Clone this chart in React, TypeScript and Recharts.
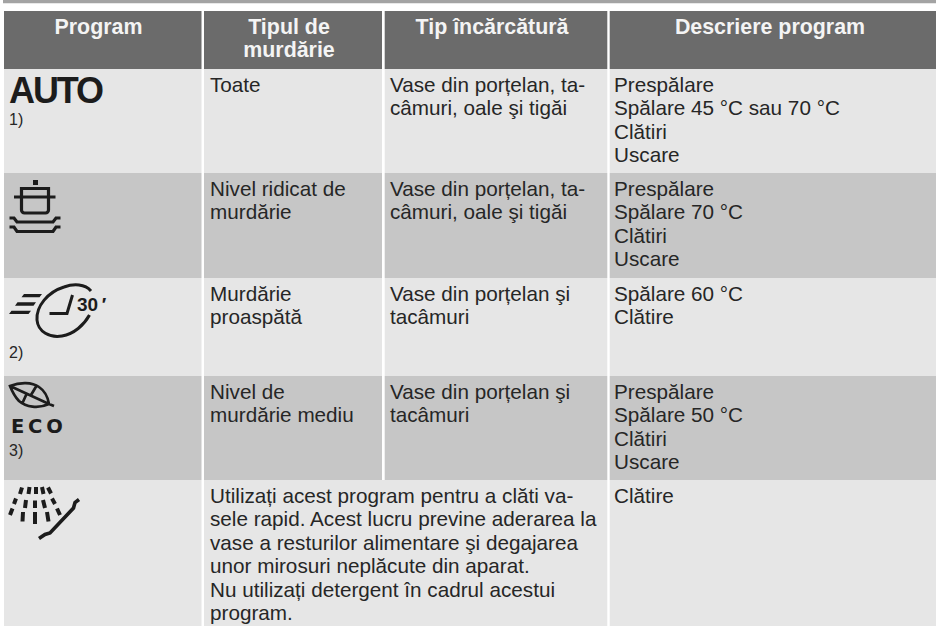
import { ScatterChart, Scatter, XAxis, YAxis, ReferenceArea } from 'recharts';

const WIDTH = 936;
const HEIGHT = 626;
const FONT = '"Liberation Sans", Arial, sans-serif';

const headerLabels = [['Program'], ['Tipul de', 'murdărie'], ['Tip încărcătură'], ['Descriere program']];

const soilLevels = [
  ['Toate'],
  ['Nivel ridicat de', 'murdărie'],
  ['Murdărie', 'proaspătă'],
  ['Nivel de', 'murdărie mediu'],
];

const loadTypes = [
  ['Vase din porțelan, ta-', 'câmuri, oale şi tigăi'],
  ['Vase din porțelan, ta-', 'câmuri, oale şi tigăi'],
  ['Vase din porțelan şi', 'tacâmuri'],
  ['Vase din porțelan şi', 'tacâmuri'],
];

const descriptions = [
  ['Prespălare', 'Spălare 45 °C sau 70 °C', 'Clătiri', 'Uscare'],
  ['Prespălare', 'Spălare 70 °C', 'Clătiri', 'Uscare'],
  ['Spălare 60 °C', 'Clătire'],
  ['Prespălare', 'Spălare 50 °C', 'Clătiri', 'Uscare'],
  ['Clătire'],
];

const rinseNote = [
  'Utilizați acest program pentru a clăti va-',
  'sele rapid. Acest lucru previne aderarea la',
  'vase a resturilor alimentare şi degajarea',
  'unor mirosuri neplăcute din aparat.',
  'Nu utilizați detergent în cadrul acestui',
  'program.',
];

const footnotes = ['1)', '', '2)', '3)', ''];
const footnoteBaselines = [125, 0, 358, 456, 0];
const programIcons = ['auto', 'pot', 'quick', 'eco', 'rinse'];

// table grid, in page pixels
const columnEdges = [[4, 201.5], [204, 382], [384.7, 607.3], [609.7, 936]];
const mergedColumnEdges = [[4, 201.5], [204, 607.3], [609.7, 936]];
const rowEdges = [69, 173, 278, 376, 480, 626];
const rowFills = ['#e6e6e6', '#c6c6c6', '#e6e6e6', '#c6c6c6', '#e6e6e6'];
const headerCenters = [98.5, 289, 492, 770];
const textLefts = [9, 210, 390, 614];
const LINE = 23.4;

type TextPoint = { x: number; y: number; text: string; kind: string };

const textPoints: TextPoint[] = [];
headerLabels.forEach((lines, c) =>
  lines.forEach((text, i) => textPoints.push({ x: headerCenters[c], y: 34 + i * LINE, text, kind: 'header' })),
);
const addCell = (lines: string[], c: number, r: number) =>
  lines.forEach((text, i) =>
    textPoints.push({ x: textLefts[c], y: rowEdges[r] + 23 + i * LINE, text, kind: 'body' }),
  );
soilLevels.forEach((lines, r) => addCell(lines, 1, r));
loadTypes.forEach((lines, r) => addCell(lines, 2, r));
descriptions.forEach((lines, r) => addCell(lines, 3, r));
addCell(rinseNote, 1, 4);
footnotes.forEach((text, r) => {
  if (text) textPoints.push({ x: textLefts[0], y: footnoteBaselines[r], text, kind: 'note' });
});

const iconPoints = programIcons.map((icon, r) => ({ x: 0, y: rowEdges[r], icon }));

const textStyles: Record<string, any> = {
  header: { fontSize: 21.4, fontWeight: 700, fill: '#f4f4f4', textAnchor: 'middle' },
  body: { fontSize: 20.7, fill: '#262626' },
  note: { fontSize: 16, fill: '#262626' },
};

function TextMark({ cx, cy, payload }: any) {
  return (
    <text x={cx} y={cy} fontFamily={FONT} {...textStyles[payload.kind]}>
      {payload.text}
    </text>
  );
}

const INK = '#1c1c1c';

function AutoIcon() {
  return (
    <text x={9} y={33.5} fontFamily={FONT} fontSize={36} fontWeight={700} letterSpacing={-2.1} fill={INK}>
      AUTO
    </text>
  );
}

function PotIcon() {
  return (
    <g fill="none" stroke={INK} strokeWidth={3.2}>
      <rect x={33} y={7} width={5} height={5} fill={INK} stroke="none" />
      <path d="M21.5 15.5 H48.5 V37 a3 3 0 0 1 -3 3 H24.5 a3 3 0 0 1 -3 -3 Z" />
      <path d="M14 24 H55.5" />
      <path d="M9.5 45 H14 L17 49 H53 L56 45 H60.5" />
      <path d="M9.5 54 H14 L17 58.5 H53 L56 54 H60.5" />
    </g>
  );
}

function QuickIcon() {
  return (
    <g>
      <path
        d="M24 16 H42 L39.5 19.3 H21.5 Z M17.5 24.3 H36 L33.5 27.7 H15 Z M11.5 32.7 H31 L28.5 36 H9 Z"
        fill={INK}
      />
      <path
        d="M91 13 C85 6 74 5.5 64 9 C48 14 36 28 37 42 C38 54 50 60 62 58 C74 56 84 47 89.5 37"
        fill="none"
        stroke={INK}
        strokeWidth={3}
      />
      <path d="M49.5 35.5 H67 L72.5 17" fill="none" stroke={INK} strokeWidth={3} />
      <text x={77} y={33} fontFamily={FONT} fontSize={19} fontWeight={700} fill={INK}>
        30<tspan dx={3.5}>′</tspan>
      </text>
    </g>
  );
}

function EcoIcon() {
  return (
    <g>
      <path
        d="M10 10 C20 6 32 6 39 11 C45 15 48 22 49 28 C38 33 26 31 19 25 C15 21 12 15 10 10 Z M10 10 L49 28 L54 30 M31 19 L37 9 M27 17 L22 28"
        fill="none"
        stroke={INK}
        strokeWidth={2.7}
      />
      <text
        x={11}
        y={57}
        fontFamily='"DejaVu Sans", sans-serif'
        fontSize={19.5}
        fontWeight={700}
        letterSpacing={3.8}
        fill={INK}
      >
        ECO
      </text>
    </g>
  );
}

function RinseIcon() {
  return (
    <g fill="none" stroke={INK}>
      <path
        strokeWidth={4}
        d="M22 7.5 L20 14 M29.5 7 L28.5 14 M36 7 V14 M42 7 L43.5 14 M48 7.5 L51 13.5 M16 18.5 L14 24 M26 20 L25 28 M35 20.5 V28 M43 20 L45 28 M52 18.5 L55 24 M12.5 28.5 L10 35 M23 32 L22.5 41.5 M35 32 V44 M47 32 L48.5 41.5 M57 28.5 L60 35"
      />
      <path strokeWidth={3.6} d="M79 19.5 L75 22.5 L73.5 28 L50 53 L45 54.5 L39 58.5" />
    </g>
  );
}

const iconComponents: Record<string, () => any> = {
  auto: AutoIcon,
  pot: PotIcon,
  quick: QuickIcon,
  eco: EcoIcon,
  rinse: RinseIcon,
};

function IconMark({ cx, cy, payload }: any) {
  const Icon = iconComponents[payload.icon];
  return (
    <g transform={`translate(${cx},${cy})`}>
      <Icon />
    </g>
  );
}

export default function App() {
  return (
    <div style={{ position: 'absolute', left: 0, top: 0, width: WIDTH, height: HEIGHT, background: '#fff' }}>
      <ScatterChart width={WIDTH} height={HEIGHT} margin={{ top: 0, right: 0, bottom: 0, left: 0 }}>
        <XAxis type="number" dataKey="x" domain={[0, WIDTH]} hide />
        <YAxis type="number" dataKey="y" domain={[0, HEIGHT]} reversed hide />

        <ReferenceArea x1={3} x2={WIDTH} y1={0} y2={3.3} fill="#a3a3a3" fillOpacity={1} strokeOpacity={0} />
        {columnEdges.map(([x1, x2]) => (
          <ReferenceArea key={x1} x1={x1} x2={x2} y1={11} y2={rowEdges[0]} fill="#6b6b6b" fillOpacity={1} strokeOpacity={0} />
        ))}
        {rowFills.map((fill, r) =>
          (r === 4 ? mergedColumnEdges : columnEdges).map(([x1, x2]) => (
            <ReferenceArea
              key={`${r}-${x1}`}
              x1={x1}
              x2={x2}
              y1={rowEdges[r]}
              y2={rowEdges[r + 1]}
              fill={fill}
              fillOpacity={1}
              strokeOpacity={0}
            />
          )),
        )}

        <Scatter data={iconPoints} shape={IconMark} isAnimationActive={false} />
        <Scatter data={textPoints} shape={TextMark} isAnimationActive={false} />
      </ScatterChart>
    </div>
  );
}
